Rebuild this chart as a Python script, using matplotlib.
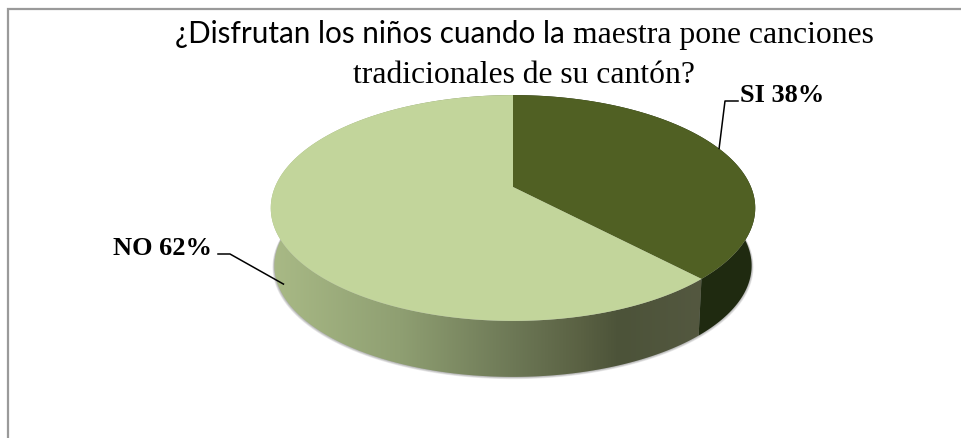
import numpy as np
import matplotlib
matplotlib.use('Agg')
import matplotlib.pyplot as plt
from matplotlib.colors import LinearSegmentedColormap
from matplotlib.patches import Polygon

# Data
categories = ['SI', 'NO']
shares = [38, 62]
top_colors = ['#506023', '#C2D59B']
dark_side = '#1F2A10'

# gradient of the light slice wall, left to right
wall_stops = [0.0, 0.3, 0.57, 0.72, 0.81, 1.0]
wall_colors = ['#A9BA86', '#8F9F72', '#6C7755', '#5A6143', '#4C5339', '#545840']

# pie geometry in pixels
cx, cy = 513, 188
R, a, p = 238, 109, 0.186
depth = 58
base_scale = 0.985


def project(angle, scale=1.0, drop=0):
    # angle in degrees clockwise from the top, simple perspective on a disc
    t = np.radians(angle)
    u, v = np.sin(t), -np.cos(t)
    w = 1 - p * v
    return cx + scale * R * u / w, cy + scale * a * v / w + drop


def arc(start, end, scale=1.0, drop=0):
    t = np.linspace(start, end, 200)
    x, y = project(t, scale, drop)
    return np.column_stack([x, y])


fig = plt.figure(figsize=(9.62, 4.39), dpi=100)
ax = fig.add_axes([0, 0, 1, 1])
ax.axis('off')

# frame, open on the right and at the bottom
ax.plot([8, 8, 962], [439, 9.5, 9.5], color='#9a9a9a', lw=1.6, solid_joinstyle='miter')

# soft shadow under the pie
for i in range(5):
    ring = arc(0, 360, base_scale + 0.002 * i, depth + 0.3 * i)
    ax.add_patch(Polygon(ring, closed=True, fc='#555555', ec='none', alpha=0.12, zorder=1))

splits = np.cumsum([0] + shares) * 3.6

# walls of both slices
wall_pts = np.vstack([arc(splits[1], 360), arc(splits[1], 360, base_scale, depth)[::-1]])
wall = Polygon(wall_pts, closed=True, fc='none', ec='none', zorder=2)
ax.add_patch(wall)
cmap = LinearSegmentedColormap.from_list('wall', list(zip(wall_stops, wall_colors)))
x0, x1 = project(270)[0] - 5, project(splits[1])[0]
img = ax.imshow(np.linspace(0, 1, 256).reshape(1, -1), cmap=cmap, aspect='auto',
                extent=[x0, x1, 439, 0], vmin=0, vmax=1, zorder=2)
img.set_clip_path(wall)

dark_pts = np.vstack([arc(0, splits[1]), arc(0, splits[1], base_scale, depth)[::-1]])
ax.add_patch(Polygon(dark_pts, closed=True, fc=dark_side, ec='none', zorder=2))

# top faces
for i, col in enumerate(top_colors):
    pts = np.vstack([[cx, cy], arc(splits[i], splits[i + 1])])
    ax.add_patch(Polygon(pts, closed=True, fc=col, ec='none', zorder=3))

# leader lines and labels
mids = (splits[:-1] + splits[1:]) / 2
sx, sy = project(mids[0])
ax.plot([sx - 1, 725, 738], [sy - 1, 102, 102], color='black', lw=1.1, zorder=4)
nx, ny = project(mids[1], 1.0, depth - 4)
ax.plot([nx + 8, 230, 218], [ny, 255, 255], color='black', lw=1.1, zorder=4)

label_font = dict(family='Liberation Serif', fontweight='bold', fontsize=19,
                  color='black', va='baseline')
ax.text(740, 102, f'{categories[0]} {shares[0]}%', ha='left', **label_font)
ax.text(212, 255, f'{categories[1]} {shares[1]}%', ha='right', **label_font)

# title, the first line mixes two fonts
ax.text(175, 43, '¿Disfrutan los niños cuando la', family='Lato', fontsize=21.3,
        color='black', ha='left', va='baseline')
ax.text(874, 43, 'maestra pone canciones', family='Liberation Serif', fontsize=22.8,
        color='black', ha='right', va='baseline')
ax.text(524, 83, 'tradicionales de su cantón?', family='Liberation Serif', fontsize=22.8,
        color='black', ha='center', va='baseline')

ax.set_xlim(0, 962)
ax.set_ylim(439, 0)
fig.savefig('out.png', dpi=100, facecolor='white')
